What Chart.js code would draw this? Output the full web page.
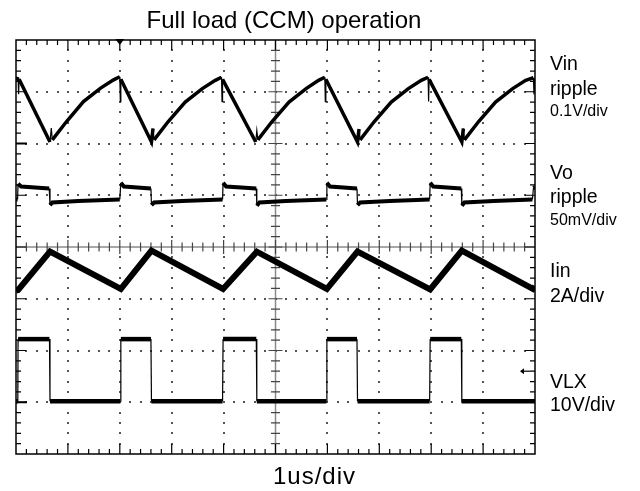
<!DOCTYPE html>
<html>
<head>
<meta charset="utf-8">
<script src="https://cdn.jsdelivr.net/npm/chart.js@4"></script>
<style>
html, body { margin: 0; padding: 0; background: #fff; }
#wrap { position: relative; width: 640px; height: 491px; font-family: "Liberation Sans", Arial, sans-serif; color: #000; }
#wrap canvas { position: absolute; left: 0; top: 0; }
.lbl { position: absolute; white-space: nowrap; line-height: 1; }
.big { font-size: 19.5px; }
.small { font-size: 16px; }
</style>
</head>
<body>
<div id="wrap">
  <canvas id="grafico" width="640" height="491"></canvas>
  <div class="lbl" style="left:0;width:568px;text-align:center;top:8px;font-size:24px;">Full load (CCM) operation</div>
  <div class="lbl big" style="left:550px;top:53.5px;">Vin</div>
  <div class="lbl big" style="left:550px;top:78.5px;">ripple</div>
  <div class="lbl small" style="left:550px;top:102.5px;">0.1V/div</div>
  <div class="lbl big" style="left:550px;top:162.8px;">Vo</div>
  <div class="lbl big" style="left:550px;top:186.8px;">ripple</div>
  <div class="lbl small" style="left:550px;top:211.5px;">50mV/div</div>
  <div class="lbl big" style="left:550px;top:261.2px;">Iin</div>
  <div class="lbl big" style="left:550px;top:286.2px;">2A/div</div>
  <div class="lbl big" style="left:550px;top:371.8px;">VLX</div>
  <div class="lbl big" style="left:550px;top:395.2px;">10V/div</div>
  <div class="lbl" style="left:273px;top:464px;font-size:24px;letter-spacing:1px;">1us/div</div>
</div>
<script>
// tempo em divisoes (1us/div), amplitude em divisoes (0 = base da tela, 8 = topo)
const tempoVin = [0, 0.04, 0.05, 0.06, 0.655, 0.68, 0.70, 0.97, 1.30, 1.63, 1.88,
  2.00, 2.01, 2.02, 2.61, 2.64, 2.66, 2.93, 3.26, 3.59, 3.84,
  3.96, 3.97, 3.98, 4.62, 4.64, 4.66, 4.93, 5.26, 5.59, 5.83,
  5.95, 5.96, 5.97, 6.58, 6.61, 6.63, 6.90, 7.23, 7.56, 7.81,
  7.94, 7.95, 7.96, 8.59, 8.62, 8.64, 8.91, 9.24, 9.57, 9.82,
  9.97, 9.98, 10];
const vin = [7.22, 7.28, 6.95, 7.24, 6.03, 6.30, 6.07, 6.42, 6.81, 7.07, 7.23,
  7.29, 6.81, 7.24, 6.03, 6.29, 6.07, 6.42, 6.80, 7.06, 7.22,
  7.28, 6.81, 7.24, 6.03, 6.25, 6.07, 6.42, 6.80, 7.06, 7.22,
  7.28, 6.81, 7.24, 6.03, 6.28, 6.07, 6.42, 6.80, 7.06, 7.22,
  7.28, 6.81, 7.24, 6.03, 6.29, 6.07, 6.42, 6.80, 7.06, 7.22,
  7.27, 6.95, 7.25];

const tempoVo = [0, 0.03, 0.04, 0.10, 0.64, 0.655, 0.70, 1.20,
  2.00, 2.02, 2.08, 2.60, 2.61, 2.66, 3.20,
  3.98, 3.99, 4.05, 4.63, 4.64, 4.69, 5.20,
  5.98, 5.99, 6.05, 6.57, 6.58, 6.63, 7.20,
  7.97, 7.98, 8.04, 8.58, 8.59, 8.64, 9.20,
  9.95, 9.97, 10];
const vo = [4.92, 4.92, 5.22, 5.17, 5.13, 4.81, 4.86, 4.89,
  4.92, 5.24, 5.17, 5.13, 4.81, 4.86, 4.89,
  4.92, 5.24, 5.17, 5.13, 4.80, 4.86, 4.89,
  4.92, 5.24, 5.17, 5.13, 4.81, 4.86, 4.89,
  4.92, 5.24, 5.17, 5.13, 4.80, 4.86, 4.89,
  4.92, 5.14, 5.16];

const tempoIin = [0, 0.04, 0.655, 2.02, 2.61, 3.99, 4.64, 5.99, 6.58, 7.98, 8.59, 9.96, 10];
const iin = [3.16, 3.17, 3.91, 3.19, 3.93, 3.19, 3.91, 3.19, 3.91, 3.18, 3.93, 3.19, 3.24];

const tempoVlx = [0, 0.035, 0.04, 0.645, 0.655,
  2.01, 2.02, 2.60, 2.61,
  3.98, 3.99, 4.63, 4.64,
  5.98, 5.99, 6.57, 6.58,
  7.97, 7.98, 8.58, 8.59, 10];
const vlx = [1.02, 1.02, 2.22, 2.22, 1.02,
  1.02, 2.22, 2.22, 1.02,
  1.02, 2.22, 2.22, 1.02,
  1.02, 2.22, 2.22, 1.02,
  1.02, 2.22, 2.22, 1.02, 1.02];

function pontos(tempo, valores) {
    return tempo.map((t, i) => ({ x: t, y: valores[i] }));
}

function tracado(label, tempo, valores, espessura) {
    return {
        label: label,
        data: pontos(tempo, valores),
        borderColor: '#000',
        borderWidth: espessura,
        pointRadius: 0,
        tension: 0,
        segment: {
            // flancos verticais ficam finos, como no osciloscopio
            borderWidth: c => (Math.abs(c.p1.x - c.p0.x) < 1.5 ? 1.2 : espessura)
        }
    };
}

// grade do osciloscopio: pontilhado, eixos centrais, moldura com marcas
const gradePlugin = {
    id: 'grade',
    beforeDatasetsDraw(chart) {
        const { ctx, scales: { x, y } } = chart;
        const X = v => x.getPixelForValue(v);
        const Y = v => y.getPixelForValue(v);
        ctx.save();

        ctx.fillStyle = '#555';
        for (let i = 1; i < 10; i++) {
            if (i === 5) continue;
            for (let k = 1; k < 40; k++) {
                if (k % 5 === 0) continue;
                ctx.fillRect(Math.round(X(i)) - 1, Math.round(Y(k * 0.2)) - 1, 2, 2);
            }
        }
        for (let j = 1; j < 8; j++) {
            if (j === 4) continue;
            for (let k = 1; k < 50; k++) {
                ctx.fillRect(Math.round(X(k * 0.2)) - 1, Math.round(Y(j)) - 1, 2, 2);
            }
        }

        // eixos centrais
        ctx.strokeStyle = '#8a8a8a';
        ctx.lineWidth = 1.5;
        ctx.beginPath();
        ctx.moveTo(X(0), Y(4)); ctx.lineTo(X(10), Y(4));
        ctx.moveTo(X(5), Y(0)); ctx.lineTo(X(5), Y(8));
        ctx.stroke();
        ctx.strokeStyle = '#444';
        ctx.lineWidth = 1.2;
        ctx.beginPath();
        for (let k = 1; k < 50; k++) {
            const h = k % 5 === 0 ? 7 : 4.5;
            ctx.moveTo(X(k * 0.2), Y(4) - h); ctx.lineTo(X(k * 0.2), Y(4) + h);
        }
        for (let k = 1; k < 40; k++) {
            const h = k % 5 === 0 ? 7 : 4.5;
            ctx.moveTo(X(5) - h, Y(k * 0.2)); ctx.lineTo(X(5) + h, Y(k * 0.2));
        }
        ctx.stroke();

        // moldura
        ctx.strokeStyle = '#000';
        ctx.lineWidth = 1.5;
        ctx.strokeRect(X(0), Y(8), X(10) - X(0), Y(0) - Y(8));
        ctx.lineWidth = 1.2;
        ctx.beginPath();
        for (let k = 1; k < 50; k++) {
            const h = k % 5 === 0 ? 10 : 5;
            ctx.moveTo(X(k * 0.2), Y(8)); ctx.lineTo(X(k * 0.2), Y(8) + h);
            ctx.moveTo(X(k * 0.2), Y(0)); ctx.lineTo(X(k * 0.2), Y(0) - h);
        }
        for (let k = 1; k < 40; k++) {
            const h = k % 5 === 0 ? 10 : 5;
            ctx.moveTo(X(0), Y(k * 0.2)); ctx.lineTo(X(0) + h, Y(k * 0.2));
            ctx.moveTo(X(10), Y(k * 0.2)); ctx.lineTo(X(10) - h, Y(k * 0.2));
        }
        ctx.stroke();

        // marcadores de nivel dos canais
        ctx.lineWidth = 2;
        ctx.beginPath();
        ctx.moveTo(X(0), Y(6)); ctx.lineTo(X(0) + 11, Y(6));
        ctx.moveTo(X(0), Y(1)); ctx.lineTo(X(0) + 11, Y(1));
        ctx.stroke();

        // marcador de trigger no topo
        ctx.fillStyle = '#000';
        ctx.beginPath();
        ctx.moveTo(X(2) - 4.5, Y(8) - 1);
        ctx.lineTo(X(2) + 4.5, Y(8) - 1);
        ctx.lineTo(X(2), Y(8) + 5);
        ctx.closePath();
        ctx.fill();

        // nivel de trigger na direita
        ctx.lineWidth = 1.2;
        ctx.beginPath();
        ctx.moveTo(X(10) - 5, Y(1.6)); ctx.lineTo(X(10) - 14, Y(1.6));
        ctx.stroke();
        ctx.beginPath();
        ctx.moveTo(X(10) - 15, Y(1.6));
        ctx.lineTo(X(10) - 11, Y(1.6) - 3);
        ctx.lineTo(X(10) - 11, Y(1.6) + 3);
        ctx.closePath();
        ctx.fill();

        ctx.restore();
    }
};

const ctx = document.getElementById('grafico').getContext('2d');
new Chart(ctx, {
    type: 'line',
    data: {
        datasets: [
            tracado('Vin ripple', tempoVin, vin, 3.5),
            tracado('Vo ripple', tempoVo, vo, 4),
            tracado('Iin', tempoIin, iin, 6),
            tracado('VLX', tempoVlx, vlx, 4.5)
        ]
    },
    options: {
        responsive: false,
        animation: false,
        layout: { padding: { left: 16, top: 40, right: 105, bottom: 37 } },
        plugins: { legend: { display: false }, tooltip: { enabled: false } },
        scales: {
            x: { type: 'linear', min: 0, max: 10, display: false },
            y: { type: 'linear', min: 0, max: 8, display: false }
        }
    },
    plugins: [gradePlugin]
});
</script>
</body>
</html>
